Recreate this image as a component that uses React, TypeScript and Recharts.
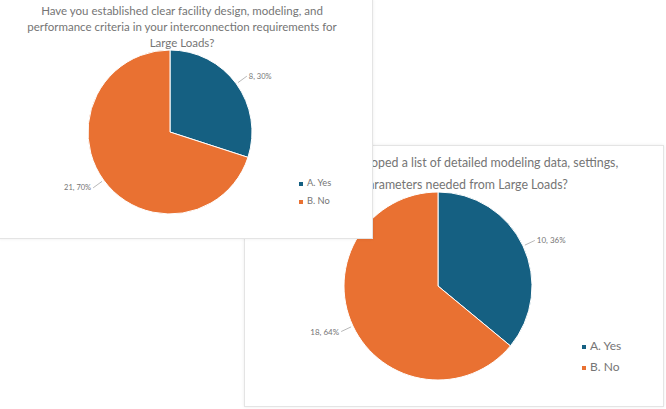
import { PieChart, Pie, Cell, Legend } from 'recharts'

const answerNames = ['A. Yes', 'B. No']
const sliceColors = ['#156082', '#E97132']

const q1Title = ['Have you established clear facility design, modeling, and', 'performance criteria in your interconnection requirements for', 'Large Loads?']
const q1Counts = [8, 21]
const q1Shares = [30, 70]

const q2Title = ['Have you developed a list of detailed modeling data, settings,', 'and parameters needed from Large Loads?']
const q2Counts = [10, 18]
const q2Shares = [36, 64]

const RAD = Math.PI / 180
const textGrey = '#757575'

function makeLabel(fontSize: number, gap: number) {
  return (props: any) => {
    const { cx, cy, midAngle, outerRadius, payload } = props
    const cos = Math.cos(-midAngle * RAD)
    const sin = Math.sin(-midAngle * RAD)
    const sx = cx + (outerRadius + 2) * cos
    const sy = cy + (outerRadius + 2) * sin
    const ex = cx + (outerRadius + gap) * cos
    const ey = cy + (outerRadius + gap) * sin
    const right = cos >= 0
    return (
      <g>
        <line x1={sx} y1={sy} x2={ex} y2={ey} stroke="#a6a6a6" strokeWidth={0.8} />
        <text
          x={ex + (right ? 2 : -2)}
          y={ey}
          fill={textGrey}
          fontSize={fontSize}
          textAnchor={right ? 'start' : 'end'}
          dominantBaseline="central"
        >
          {`${payload.count}, ${payload.share}%`}
        </text>
      </g>
    )
  }
}

function legendText(value: string) {
  return <span style={{ color: textGrey }}>{value}</span>
}

function Card(props: {
  left: number
  top: number
  width: number
  height: number
  title: string[]
  titleTop: number
  titleCenter: number
  titleSize: number
  titleLine: number
  counts: number[]
  shares: number[]
  cx: number
  cy: number
  r: number
  labelSize: number
  labelGap: number
  legendLeft: number
  legendTop: number
  legendSize: number
  legendLine: number
  z: number
}) {
  const data = answerNames.map((name, i) => ({ name, count: props.counts[i], share: props.shares[i] }))
  return (
    <div
      style={{
        position: 'absolute',
        left: props.left,
        top: props.top,
        width: props.width,
        height: props.height,
        background: '#fff',
        border: '1px solid #e4e4e4',
        boxShadow: '0 0 3px rgba(0,0,0,0.08)',
        zIndex: props.z,
        boxSizing: 'border-box',
      }}
    >
      <div
        style={{
          position: 'absolute',
          top: props.titleTop,
          left: props.titleCenter - 250,
          width: 500,
          textAlign: 'center',
          fontFamily: 'Lato, "Open Sans", sans-serif',
          fontSize: props.titleSize,
          lineHeight: `${props.titleLine}px`,
          color: textGrey,
          whiteSpace: 'nowrap',
        }}
      >
        {props.title.map((t) => (
          <div key={t}>{t}</div>
        ))}
      </div>
      <div style={{ position: 'absolute', left: -1, top: -1 }}>
        <PieChart width={props.width} height={props.height} style={{ fontFamily: 'Lato, sans-serif' }}>
          <Pie
            data={data}
            dataKey="share"
            nameKey="name"
            cx={props.cx}
            cy={props.cy}
            outerRadius={props.r}
            startAngle={90}
            endAngle={-270}
            stroke="#ffffff"
            strokeWidth={1}
            label={makeLabel(props.labelSize, props.labelGap)}
            labelLine={false}
            isAnimationActive={false}
          >
            {data.map((d, i) => (
              <Cell key={d.name} fill={sliceColors[i]} />
            ))}
          </Pie>
          <Legend
            layout="vertical"
            align="right"
            verticalAlign="top"
            iconType="square"
            iconSize={4}
            formatter={legendText}
            wrapperStyle={{
              top: props.legendTop,
              left: props.legendLeft,
              right: 'auto',
              width: 'auto',
              fontSize: props.legendSize,
              lineHeight: `${props.legendLine}px`,
            }}
          />
        </PieChart>
      </div>
    </div>
  )
}

export default function App() {
  return (
    <div style={{ position: 'fixed', left: 0, top: 0, width: 666, height: 409, background: '#fff', overflow: 'hidden' }}>
      <Card
        left={244}
        top={145}
        width={420}
        height={262}
        title={q2Title}
        titleTop={6}
        titleCenter={208}
        titleSize={12.4}
        titleLine={22}
        counts={q2Counts}
        shares={q2Shares}
        cx={189}
        cy={136}
        r={94}
        labelSize={8}
        labelGap={13}
        legendLeft={338}
        legendTop={190}
        legendSize={12}
        legendLine={21}
        z={1}
      />
      <Card
        left={-1}
        top={-1}
        width={374}
        height={240}
        title={q1Title}
        titleTop={3}
        titleCenter={182}
        titleSize={11.5}
        titleLine={16}
        counts={q1Counts}
        shares={q1Shares}
        cx={166}
        cy={128}
        r={82}
        labelSize={7.5}
        labelGap={13}
        legendLeft={300}
        legendTop={175}
        legendSize={9.3}
        legendLine={18}
        z={2}
      />
    </div>
  )
}
